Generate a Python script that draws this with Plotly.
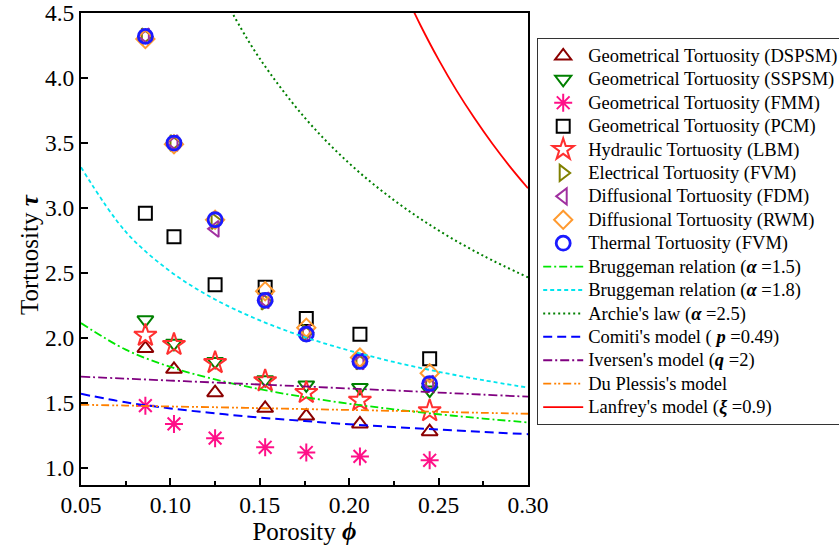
import plotly.graph_objects as go

# ---------------- data ----------------
phi = [0.086, 0.102, 0.125, 0.153, 0.176, 0.206, 0.245]

tau_dspsm = [1.92, 1.76, 1.58, 1.46, 1.40, 1.34, 1.28]
tau_sspsm = [2.14, 1.96, 1.82, 1.68, 1.64, 1.62, 1.60]
tau_fmm = [1.48, 1.34, 1.23, 1.16, 1.12, 1.09, 1.06]
tau_pcm = [2.96, 2.78, 2.41, 2.39, 2.15, 2.03, 1.84]
tau_lbm = [2.02, 1.95, 1.81, 1.67, 1.58, 1.52, 1.44]
tau_elec = [4.32, 3.50, 2.90, 2.28, 2.04, 1.82, 1.64]
tau_fdm = [4.32, 3.50, 2.84, 2.29, 2.04, 1.82, 1.65]
tau_rwm = [4.30, 3.49, 2.91, 2.36, 2.08, 1.85, 1.73]
tau_thermal = [4.32, 3.50, 2.91, 2.29, 2.03, 1.82, 1.65]

phi_model = [0.05, 0.075, 0.10, 0.125, 0.15, 0.175, 0.20, 0.225, 0.25, 0.275, 0.30]
brug15 = [2.115, 1.911, 1.778, 1.682, 1.607, 1.546, 1.495, 1.452, 1.414, 1.381, 1.351]
brug18 = [3.314, 2.818, 2.512, 2.297, 2.136, 2.008, 1.904, 1.816, 1.741, 1.676, 1.619]
comiti = [1.571, 1.506, 1.459, 1.421, 1.389, 1.362, 1.337, 1.316, 1.296, 1.278, 1.261]
iversen = [1.703, 1.688, 1.673, 1.658, 1.643, 1.628, 1.612, 1.597, 1.581, 1.565, 1.549]
duplessis = [1.487, 1.481, 1.474, 1.468, 1.461, 1.454, 1.447, 1.440, 1.433, 1.425, 1.418]

phi_archie = [0.13, 0.135, 0.15, 0.175, 0.20, 0.225, 0.25, 0.275, 0.30]
archie = [4.619, 4.490, 4.149, 3.697, 3.344, 3.061, 2.828, 2.633, 2.467]

phi_lanfrey = [0.23, 0.235, 0.24, 0.25, 0.26, 0.27, 0.28, 0.29, 0.30]
lanfrey = [4.69, 4.544, 4.402, 4.141, 3.905, 3.692, 3.496, 3.317, 3.152]

x_ticks = [0.05, 0.10, 0.15, 0.20, 0.25, 0.30]
y_ticks = [1.0, 1.5, 2.0, 2.5, 3.0, 3.5, 4.0, 4.5]

FONT = "Liberation Serif"
LEG_TXT = '<span style="font-size:18.5px">{}</span>'

fig = go.Figure()

def add_markers(y, name, symbol, color, size=14, width=2):
    fig.add_trace(go.Scatter(
        x=phi, y=y, mode="markers", name=LEG_TXT.format(name),
        marker=dict(symbol=symbol, size=size, color=color,
                    line=dict(color=color, width=width)),
    ))

add_markers(tau_dspsm, "Geometrical Tortuosity (DSPSM)", "triangle-up-open", "#8b0000")
add_markers(tau_sspsm, "Geometrical Tortuosity (SSPSM)", "triangle-down-open", "#008000")
add_markers(tau_fmm, "Geometrical Tortuosity (FMM)", "asterisk-open", "#ff1088", size=15)
add_markers(tau_pcm, "Geometrical Tortuosity (PCM)", "square-open", "#000000", size=13)
add_markers(tau_lbm, "Hydraulic Tortuosity (LBM)", "star-open", "#ff3030", size=17)
add_markers(tau_elec, "Electrical Tortuosity (FVM)", "triangle-right-open", "#808000")
add_markers(tau_fdm, "Diffusional Tortuosity (FDM)", "triangle-left-open", "#a030a0")
add_markers(tau_rwm, "Diffusional Tortuosity (RWM)", "diamond-open", "#ff9a30")
add_markers(tau_thermal, "Thermal Tortuosity (FVM)", "circle-open", "#1a1aff", size=14, width=2.8)

def add_line(x, y, name, color, dash, width=1.8):
    fig.add_trace(go.Scatter(
        x=x, y=y, mode="lines", name=LEG_TXT.format(name), line_shape="spline",
        line=dict(color=color, dash=dash, width=width),
    ))

add_line(phi_model, brug15, "Bruggeman relation (<b><i>α</i></b> =1.5)", "#00e600", "8px,3px,2px,3px")
add_line(phi_model, brug18, "Bruggeman relation (<b><i>α</i></b> =1.8)", "#00e5ee", "4px,3px")
add_line(phi_archie, archie, "Archie's law (<b><i>α</i></b> =2.5)", "#008000", "2px,3px", width=2)
add_line(phi_model, comiti, "Comiti's model ( <b><i>p</i></b> =0.49)", "#0000ff", "9px,5px", width=2)
add_line(phi_model, iversen, "Iversen's model (<b><i>q</i></b> =2)", "#800080", "9px,3px,2px,3px")
add_line(phi_model, duplessis, "Du Plessis's model", "#ff8000", "8px,3px,2px,2px,2px,3px")
add_line(phi_lanfrey, lanfrey, "Lanfrey's model (<b><i>ξ</i></b> =0.9)", "#ff0000", "solid")

axis_common = dict(
    showline=True, linecolor="black", linewidth=2, mirror=True,
    ticks="inside", ticklen=7, tickwidth=1.5, tickcolor="black",
    showgrid=False, zeroline=False, ticklabeloverflow="allow",
    tickfont=dict(family=FONT, size=23.5, color="black"),
)

fig.update_xaxes(
    range=[0.05, 0.30], tickvals=x_ticks, tickformat=".2f", ticklabelstandoff=-2,
    minor=dict(ticks="inside", ticklen=4, tickwidth=1.5, tickcolor="black", dtick=0.025, tick0=0.05),
    title=dict(text="Porosity <b><i>ϕ</i></b>", font=dict(family=FONT, size=25, color="black"), standoff=2),
    **axis_common,
)
fig.update_yaxes(
    range=[0.87, 4.5], tickvals=y_ticks, tickformat=".1f",
    **axis_common,
)

L, T = 81, 13
PW, PH = 447, 472
W, H = 839, 549
fig.update_layout(
    width=W, height=H,
    margin=dict(l=L, r=W - L - PW, t=T, b=H - T - PH, autoexpand=False),
    plot_bgcolor="white", paper_bgcolor="white",
    font=dict(family=FONT, color="black"),
    legend=dict(
        x=(537 - L) / PW, y=1 - (38 - T) / PH, xanchor="left", yanchor="top",
        bordercolor="#333333", borderwidth=1.2, bgcolor="white",
        font=dict(family=FONT, size=15.7, color="black"),
        itemwidth=40, tracegroupgap=0,
    ),
    annotations=[dict(
        text="Tortuosity <b><i>τ</i></b>", textangle=-90,
        xref="paper", yref="paper", x=(30 - L) / PW, y=1 - (255 - T) / PH,
        xanchor="center", yanchor="middle", showarrow=False,
        font=dict(family=FONT, size=25, color="black"),
    )],
    showlegend=True,
)

fig.write_html("out.html", config={"displayModeBar": False},
               post_script="document.body.style.margin='0';")
